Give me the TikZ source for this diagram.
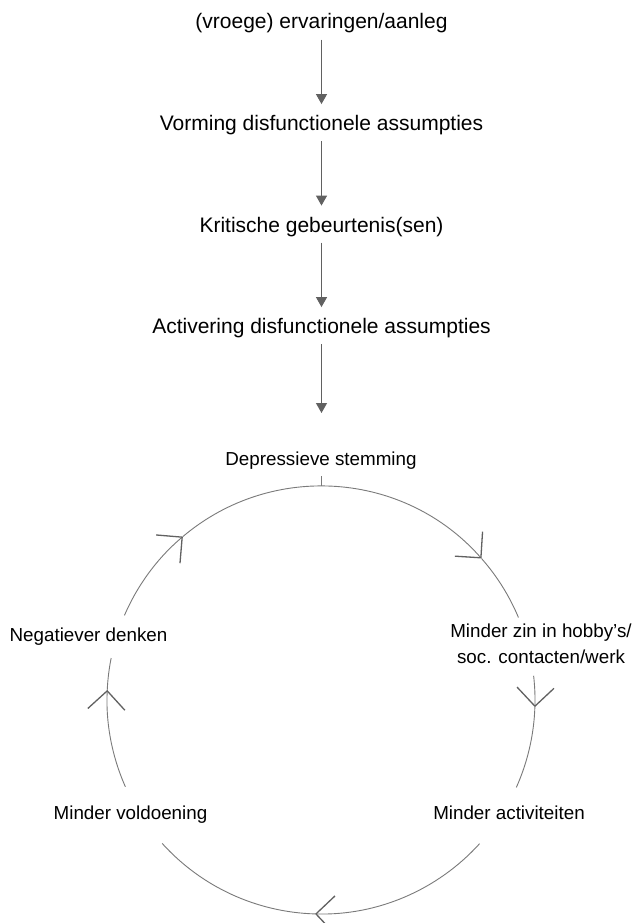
\documentclass[tikz,border=0pt]{standalone}
\usepackage{fontspec}
\setmainfont{Liberation Sans}
\usetikzlibrary{arrows.meta}
\begin{document}
\begin{tikzpicture}[x=1pt,y=-1pt,
  toplabel/.style={inner sep=0pt, anchor=base, font=\fontsize{21}{25}\selectfont},
  circlabel/.style={inner sep=0pt, anchor=base, font=\fontsize{18.8}{26}\selectfont},
  downarrow/.style={draw=black!62, line width=1.2pt, -{Triangle[length=10pt,width=11pt]}, shorten <=6pt, shorten >=11pt},
  circ/.style={draw=black!52, line width=0.9pt},
  barb/.style={-{Straight Barb[length=18.5pt,width=37pt,line width=1.3pt,color=black!62]}}
]
\useasboundingbox (0,0) rectangle (640,923);
\fill[white] (0,0) rectangle (640,923);
% top chain
\node[toplabel] (t1) at (321.5,29) {(vroege) ervaringen/aanleg};
\node[toplabel] (t2) at (321.5,130.5) {Vorming disfunctionele assumpties};
\node[toplabel] (t3) at (321.5,232) {Kritische gebeurtenis(sen)};
\node[toplabel] (t4) at (321.5,333.5) {Activering disfunctionele assumpties};
\coordinate (a4) at (321.5,413);
\draw[downarrow] (t1) -- (t2);
\draw[downarrow] (t2) -- (t3);
\draw[downarrow] (t3) -- (t4);
\draw[downarrow, shorten >=0pt] (t4) -- (a4);
% circle labels
\node[circlabel] (dep) at (321,465) {Depressieve stemming};
\node[circlabel] (neg) at (88.5,641) {Negatiever denken};
\node[circlabel, anchor=north, align=center] (zin) at (541,623.3) {Minder zin in hobby's/\\soc. contacten/werk};
\node[circlabel] (vol) at (130.5,819.5) {Minder voldoening};
\node[circlabel] (act) at (509,819.5) {Minder activiteiten};
% cycle
\coordinate (c) at (321,700);
\draw[circ] (321,476) -- (321,486);
\draw[circ, barb] ([shift={(156.7:214pt)}]c) arc[start angle=156.7, end angle=130.2, radius=214pt];
\draw[circ, barb] ([shift={(130.2:214pt)}]c) arc[start angle=130.2, end angle=41.4, radius=214pt];
\draw[circ] ([shift={(41.4:214pt)}]c) arc[start angle=41.4, end angle=22.7, radius=214pt];
\draw[circ, barb] ([shift={(6.5:214pt)}]c) arc[start angle=6.5, end angle=-1.9, radius=214pt];
\draw[circ] ([shift={(-1.9:214pt)}]c) arc[start angle=-1.9, end angle=-24.1, radius=214pt];
\draw[circ, barb] ([shift={(-42.2:214pt)}]c) arc[start angle=-42.2, end angle=-91.6, radius=214pt];
\draw[circ] ([shift={(-91.6:214pt)}]c) arc[start angle=-91.6, end angle=-137.9, radius=214pt];
\draw[circ, barb] ([shift={(-156.1:214pt)}]c) arc[start angle=-156.1, end angle=-182.7, radius=214pt];
\draw[circ] ([shift={(-182.7:214pt)}]c) arc[start angle=-182.7, end angle=-191.3, radius=214pt];
\end{tikzpicture}
\end{document}
